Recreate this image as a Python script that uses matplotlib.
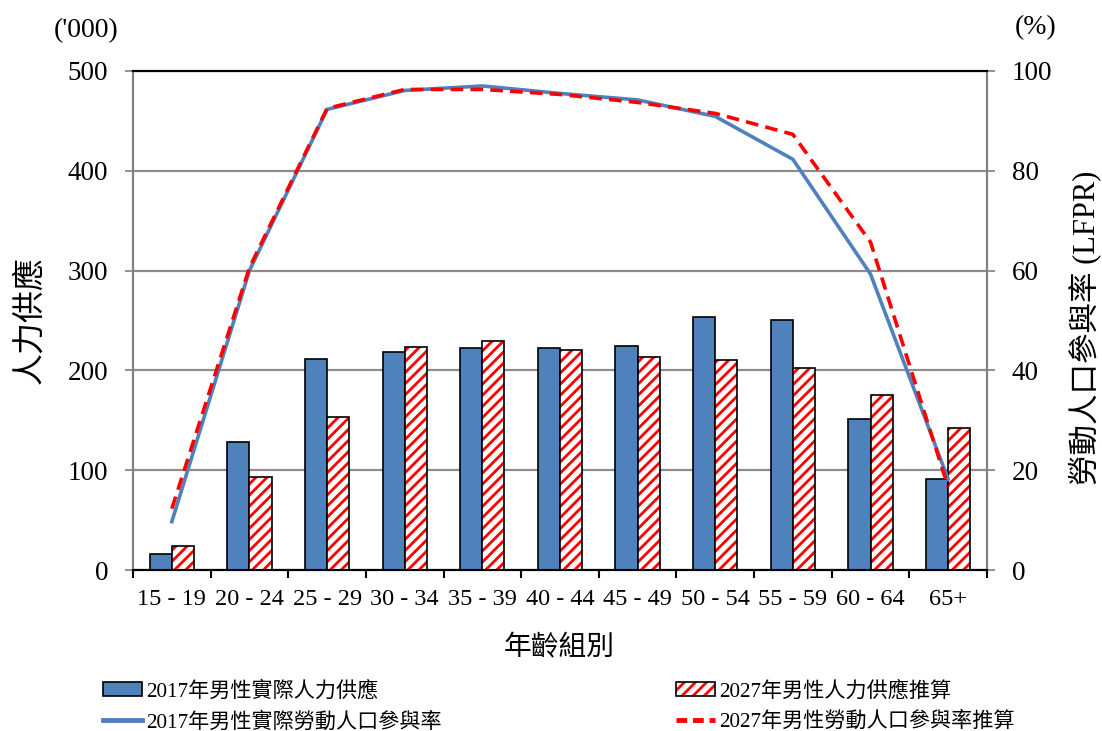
import numpy as np
import matplotlib
matplotlib.use("Agg")
import matplotlib.pyplot as plt
from matplotlib.patches import Patch
from matplotlib.lines import Line2D
from matplotlib.legend_handler import HandlerTuple

plt.rcParams['font.family'] = ['Liberation Serif', 'Noto Sans CJK TC']
plt.rcParams['hatch.linewidth'] = 2.0

age_groups = ["15 - 19", "20 - 24", "25 - 29", "30 - 34", "35 - 39", "40 - 44",
              "45 - 49", "50 - 54", "55 - 59", "60 - 64", "65+"]
supply_2017 = [16, 128, 211, 218, 222, 222, 224, 254, 251, 151, 91]
supply_2027 = [24, 93, 153, 223, 229, 220, 213, 210, 202, 175, 142]
lfpr_2017 = [9.7, 60.0, 92.3, 96.1, 97.0, 95.5, 94.2, 90.9, 82.3, 59.3, 18.2]
lfpr_2027 = [12.3, 60.6, 92.5, 96.3, 96.3, 95.3, 93.7, 91.5, 87.3, 65.7, 16.6]

BLUE = '#4F81BD'
RED = '#FF0000'

fig = plt.figure(figsize=(11.02, 7.31), dpi=100)
ax = fig.add_axes([0.1207, 0.2202, 0.7749, 0.6827])
ax2 = ax.twinx()

x = np.arange(len(age_groups))
w = 0.285

# bars (hatch drawn red, outline drawn black on top)
ax.bar(x - w / 2, supply_2017, w, color=BLUE, edgecolor='black', linewidth=1.2, zorder=3)
ax.bar(x + w / 2, supply_2027, w, color='white', edgecolor=RED, hatch='///',
       linewidth=0, zorder=3)
ax.bar(x + w / 2, supply_2027, w, fill=False, edgecolor='black', linewidth=1.2, zorder=4)

# lines on right axis
ax2.plot(x, lfpr_2017, color=BLUE, linewidth=2.6, zorder=5)
ax2.plot(x, lfpr_2027, color=RED, linewidth=2.6, linestyle=(0, (3.5, 2)), zorder=6)

ax.set_xlim(-0.5, len(age_groups) - 0.5)
ax.set_ylim(0, 500)
ax2.set_ylim(0, 100)
ax.set_yticks(range(0, 501, 100))
ax2.set_yticks(range(0, 101, 20))

ax.yaxis.grid(True, color='#8c8c8c', linewidth=1.6, zorder=0)
ax.set_axisbelow(True)

ax.set_xticks(np.arange(-0.5, len(age_groups)), minor=False)
ax.set_xticklabels([])
ax.set_xticks(x, minor=True)
ax.set_xticklabels(age_groups, minor=True, fontsize=17.5)
ax.tick_params(axis='x', which='major', direction='out', length=6, width=1.5)
ax.tick_params(axis='x', which='minor', length=0, pad=14)
ax.tick_params(axis='y', direction='out', length=6, width=1.2, labelsize=19.5, pad=12,
               color='#808080')
ax2.tick_params(axis='y', direction='out', length=6, width=1.2, labelsize=19.5, pad=12,
                color='#808080')

for a in (ax, ax2):
    a.spines['top'].set_color('black')
    a.spines['top'].set_linewidth(1.5)
    a.spines['bottom'].set_color('black')
    a.spines['bottom'].set_linewidth(1.5)
    a.spines['left'].set_color('#808080')
    a.spines['left'].set_linewidth(1.5)
    a.spines['right'].set_color('#808080')
    a.spines['right'].set_linewidth(1.5)

fig.text(30 / 1102, 1 - 320 / 731, "人力供應", fontsize=23, rotation=90,
         ha='center', va='center')
fig.text(1085 / 1102, 1 - 328 / 731, "勞動人口參與率 (LFPR)", fontsize=22, rotation=90,
         ha='center', va='center')
fig.text(559 / 1102, 1 - 648 / 731, "年齡組別", fontsize=20, ha='center', va='center')

fig.text(86 / 1102, 1 - 31 / 731, "('000)", fontsize=20, ha='center', va='center')
fig.text(1036 / 1102, 1 - 28 / 731, "(%)", fontsize=20, ha='center', va='center')

# legend
h_bar17 = Patch(facecolor=BLUE, edgecolor='black', linewidth=1.2)
h_bar27 = (Patch(facecolor='white', edgecolor=RED, hatch='///', linewidth=0),
           Patch(fill=False, edgecolor='black', linewidth=1.2))
h_line17 = Line2D([], [], color=BLUE, linewidth=3.5)
h_line27 = Line2D([], [], color=RED, linewidth=3.5, linestyle=(0, (2.2, 1.2)))
fig.legend([h_bar17, h_line17, h_bar27, h_line27],
           ["2017年男性實際人力供應", "2017年男性實際勞動人口參與率",
            "2027年男性人力供應推算", "2027年男性勞動人口參與率推算"],
           handler_map={tuple: HandlerTuple(ndivide=1)},
           ncol=2, frameon=False, fontsize=15.2, loc='lower left',
           bbox_to_anchor=(0.076, -0.028), columnspacing=11.1,
           handlelength=1.85, handletextpad=0.2, labelspacing=0.5)

fig.savefig("out.png", dpi=100)
